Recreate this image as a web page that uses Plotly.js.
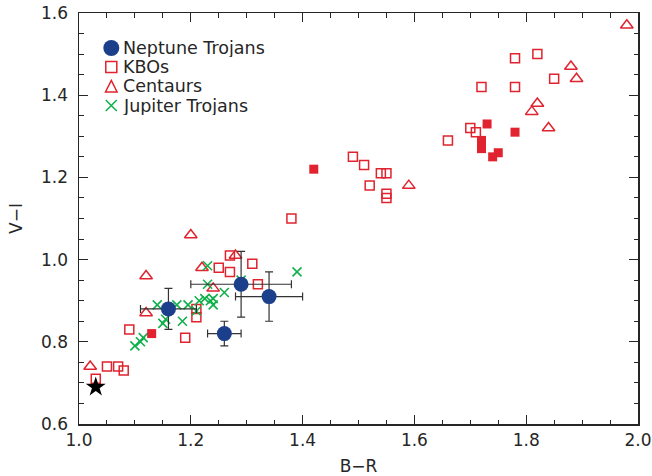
<!DOCTYPE html>
<html>
<head>
<meta charset="utf-8">
<script src="https://cdn.plot.ly/plotly-3.0.1.min.js"></script>
<style>html,body{margin:0;padding:0;background:#fff;}#chart{width:652px;height:476px;}</style>
</head>
<body>
<div id="chart"></div>
<script>
// Neptune Trojans (with error bars)
var ntX   = [1.16, 1.26, 1.29, 1.34];
var ntY   = [0.88, 0.82, 0.94, 0.91];
var ntXerr = [0.05, 0.03, 0.09, 0.06];
var ntYerr = [0.05, 0.03, 0.08, 0.06];

// KBOs (open squares)
var kboX = [1.03, 1.05, 1.07, 1.08, 1.09, 1.19, 1.21, 1.21, 1.25, 1.27, 1.27, 1.31, 1.32, 1.38,
            1.49, 1.51, 1.52, 1.54, 1.55, 1.55, 1.55, 1.66, 1.70, 1.71, 1.72, 1.78, 1.78, 1.82, 1.85];
var kboY = [0.71, 0.74, 0.74, 0.73, 0.83, 0.81, 0.88, 0.86, 0.98, 1.01, 0.97, 0.99, 0.94, 1.10,
            1.25, 1.23, 1.18, 1.21, 1.21, 1.16, 1.15, 1.29, 1.32, 1.31, 1.42, 1.42, 1.49, 1.50, 1.44];

// KBOs (filled squares)
var kboFX = [1.13, 1.42, 1.72, 1.72, 1.73, 1.74, 1.75, 1.78];
var kboFY = [0.82, 1.22, 1.29, 1.27, 1.33, 1.25, 1.26, 1.31];

// Centaurs (open triangles)
var cenX = [1.02, 1.12, 1.12, 1.20, 1.22, 1.24, 1.28, 1.59, 1.81, 1.82, 1.84, 1.88, 1.89, 1.98];
var cenY = [0.74, 0.96, 0.87, 1.06, 0.98, 0.93, 1.01, 1.18, 1.36, 1.38, 1.32, 1.47, 1.44, 1.57];

// Jupiter Trojans (crosses)
var jtX = [1.10, 1.11, 1.115, 1.14, 1.15, 1.155, 1.175, 1.185, 1.195, 1.21, 1.215, 1.225,
           1.23, 1.23, 1.235, 1.24, 1.24, 1.26, 1.29, 1.39];
var jtY = [0.79, 0.80, 0.81, 0.89, 0.845, 0.855, 0.89, 0.85, 0.89, 0.875, 0.90, 0.905,
           0.94, 0.985, 0.90, 0.905, 0.89, 0.92, 0.95, 0.97];

// Sun
var sunX = [1.03];
var sunY = [0.69];

// Legend labels
var legendLabels = ['Neptune Trojans', 'KBOs', 'Centaurs', 'Jupiter Trojans'];

var FONT = '"DejaVu Sans ExtraLight", "DejaVu Sans", sans-serif';
var RED = '#e0232e', BLUE = '#1c3f8c', GREEN = '#10b04a', INK = '#262626';

var W = 652, H = 476, ML = 79, MR = 14, MT = 13, MB = 52;
var PW = W - ML - MR, PH = H - MT - MB;
function px(x) { return (x - ML) / PW; }
function py(y) { return (H - MB - y) / PH; }

var traces = [
  {x: kboX, y: kboY, type: 'scatter', mode: 'markers', name: 'KBOs', showlegend: false,
   marker: {symbol: 'square-open', size: 9, color: RED, line: {width: 1.5, color: RED}}},
  {x: cenX, y: cenY, type: 'scatter', mode: 'markers', name: 'Centaurs', showlegend: false,
   marker: {symbol: 'triangle-up-open', size: 11, color: RED, line: {width: 1.5, color: RED}}},
  {x: jtX, y: jtY, type: 'scatter', mode: 'markers', name: 'Jupiter Trojans', showlegend: false,
   marker: {symbol: 'x-thin-open', size: 9, color: GREEN, line: {width: 1.6, color: GREEN}}},
  {x: kboFX, y: kboFY, type: 'scatter', mode: 'markers', name: 'KBOs filled', showlegend: false,
   marker: {symbol: 'square', size: 9, color: RED}},
  {x: ntX, y: ntY, type: 'scatter', mode: 'markers', name: 'Neptune Trojans', showlegend: false,
   error_x: {type: 'data', array: ntXerr, visible: true, color: '#333', thickness: 1.2, width: 4},
   error_y: {type: 'data', array: ntYerr, visible: true, color: '#333', thickness: 1.2, width: 4},
   marker: {symbol: 'circle', size: 15, color: BLUE}},
  {x: sunX, y: sunY, type: 'scatter', mode: 'markers', name: 'Sun', showlegend: false,
   marker: {symbol: 'star', size: 15, color: '#000'}}
];

// Hand-built legend (glyphs + labels) in paper coordinates
var legRowY = [48, 67, 86.5, 105.5];
var legGlyphX = 111.3, legTextX = 122;
var shapes = [
  {type: 'circle', xref: 'paper', yref: 'paper',
   x0: px(legGlyphX - 8), x1: px(legGlyphX + 8), y0: py(legRowY[0] - 8), y1: py(legRowY[0] + 8),
   fillcolor: BLUE, line: {width: 0}},
  {type: 'rect', xref: 'paper', yref: 'paper',
   x0: px(legGlyphX - 5.5), x1: px(legGlyphX + 5.5), y0: py(legRowY[1] - 5.5), y1: py(legRowY[1] + 5.5),
   line: {color: RED, width: 1.5}},
  {type: 'path', xref: 'paper', yref: 'paper',
   path: 'M ' + px(legGlyphX - 5.8) + ' ' + py(legRowY[2] + 5.5) +
         ' L ' + px(legGlyphX + 5.8) + ' ' + py(legRowY[2] + 5.5) +
         ' L ' + px(legGlyphX) + ' ' + py(legRowY[2] - 6) + ' Z',
   line: {color: RED, width: 1.5}},
  {type: 'path', xref: 'paper', yref: 'paper',
   path: 'M ' + px(legGlyphX - 5.5) + ' ' + py(legRowY[3] - 5.5) +
         ' L ' + px(legGlyphX + 5.5) + ' ' + py(legRowY[3] + 5.5) +
         ' M ' + px(legGlyphX - 5.5) + ' ' + py(legRowY[3] + 5.5) +
         ' L ' + px(legGlyphX + 5.5) + ' ' + py(legRowY[3] - 5.5),
   line: {color: GREEN, width: 1.5}}
];
var annotations = legendLabels.map(function (t, i) {
  return {text: t, xref: 'paper', yref: 'paper', x: px(legTextX), y: py(legRowY[i]),
          xanchor: 'left', yanchor: 'middle', showarrow: false, height: 18, borderpad: 0,
          valign: 'middle', font: {family: FONT, size: 17.5, color: INK}};
});

var axisCommon = {
  showgrid: false, zeroline: false, showline: true, linecolor: INK, linewidth: 1.5,
  mirror: 'ticks', ticks: 'inside', ticklen: 9, tickwidth: 1.2, tickcolor: INK,
  tickmode: 'linear', dtick: 0.2, tickformat: '.1f',
  minor: {dtick: 0.05, ticks: 'inside', ticklen: 4.5, tickwidth: 1, tickcolor: INK},
  tickfont: {family: FONT, size: 17, color: INK}
};

var layout = {
  width: W, height: H,
  margin: {l: ML, r: MR, t: MT, b: MB},
  paper_bgcolor: '#fff', plot_bgcolor: '#fff',
  showlegend: false,
  shapes: shapes,
  annotations: annotations,
  xaxis: Object.assign({}, axisCommon, {
    range: [1.0, 2.0], tick0: 1.0,
    title: {text: 'B\u2212R', font: {family: FONT, size: 17, color: INK}, standoff: 17}
  }),
  yaxis: Object.assign({}, axisCommon, {
    range: [0.6, 1.6], tick0: 0.6,
    ticklabelstandoff: 6,
    title: {text: 'V\u2212I', font: {family: FONT, size: 17, color: INK}, standoff: 14}
  })
};

Plotly.newPlot('chart', traces, layout, {displayModeBar: false, staticPlot: true});
</script>
</body>
</html>
